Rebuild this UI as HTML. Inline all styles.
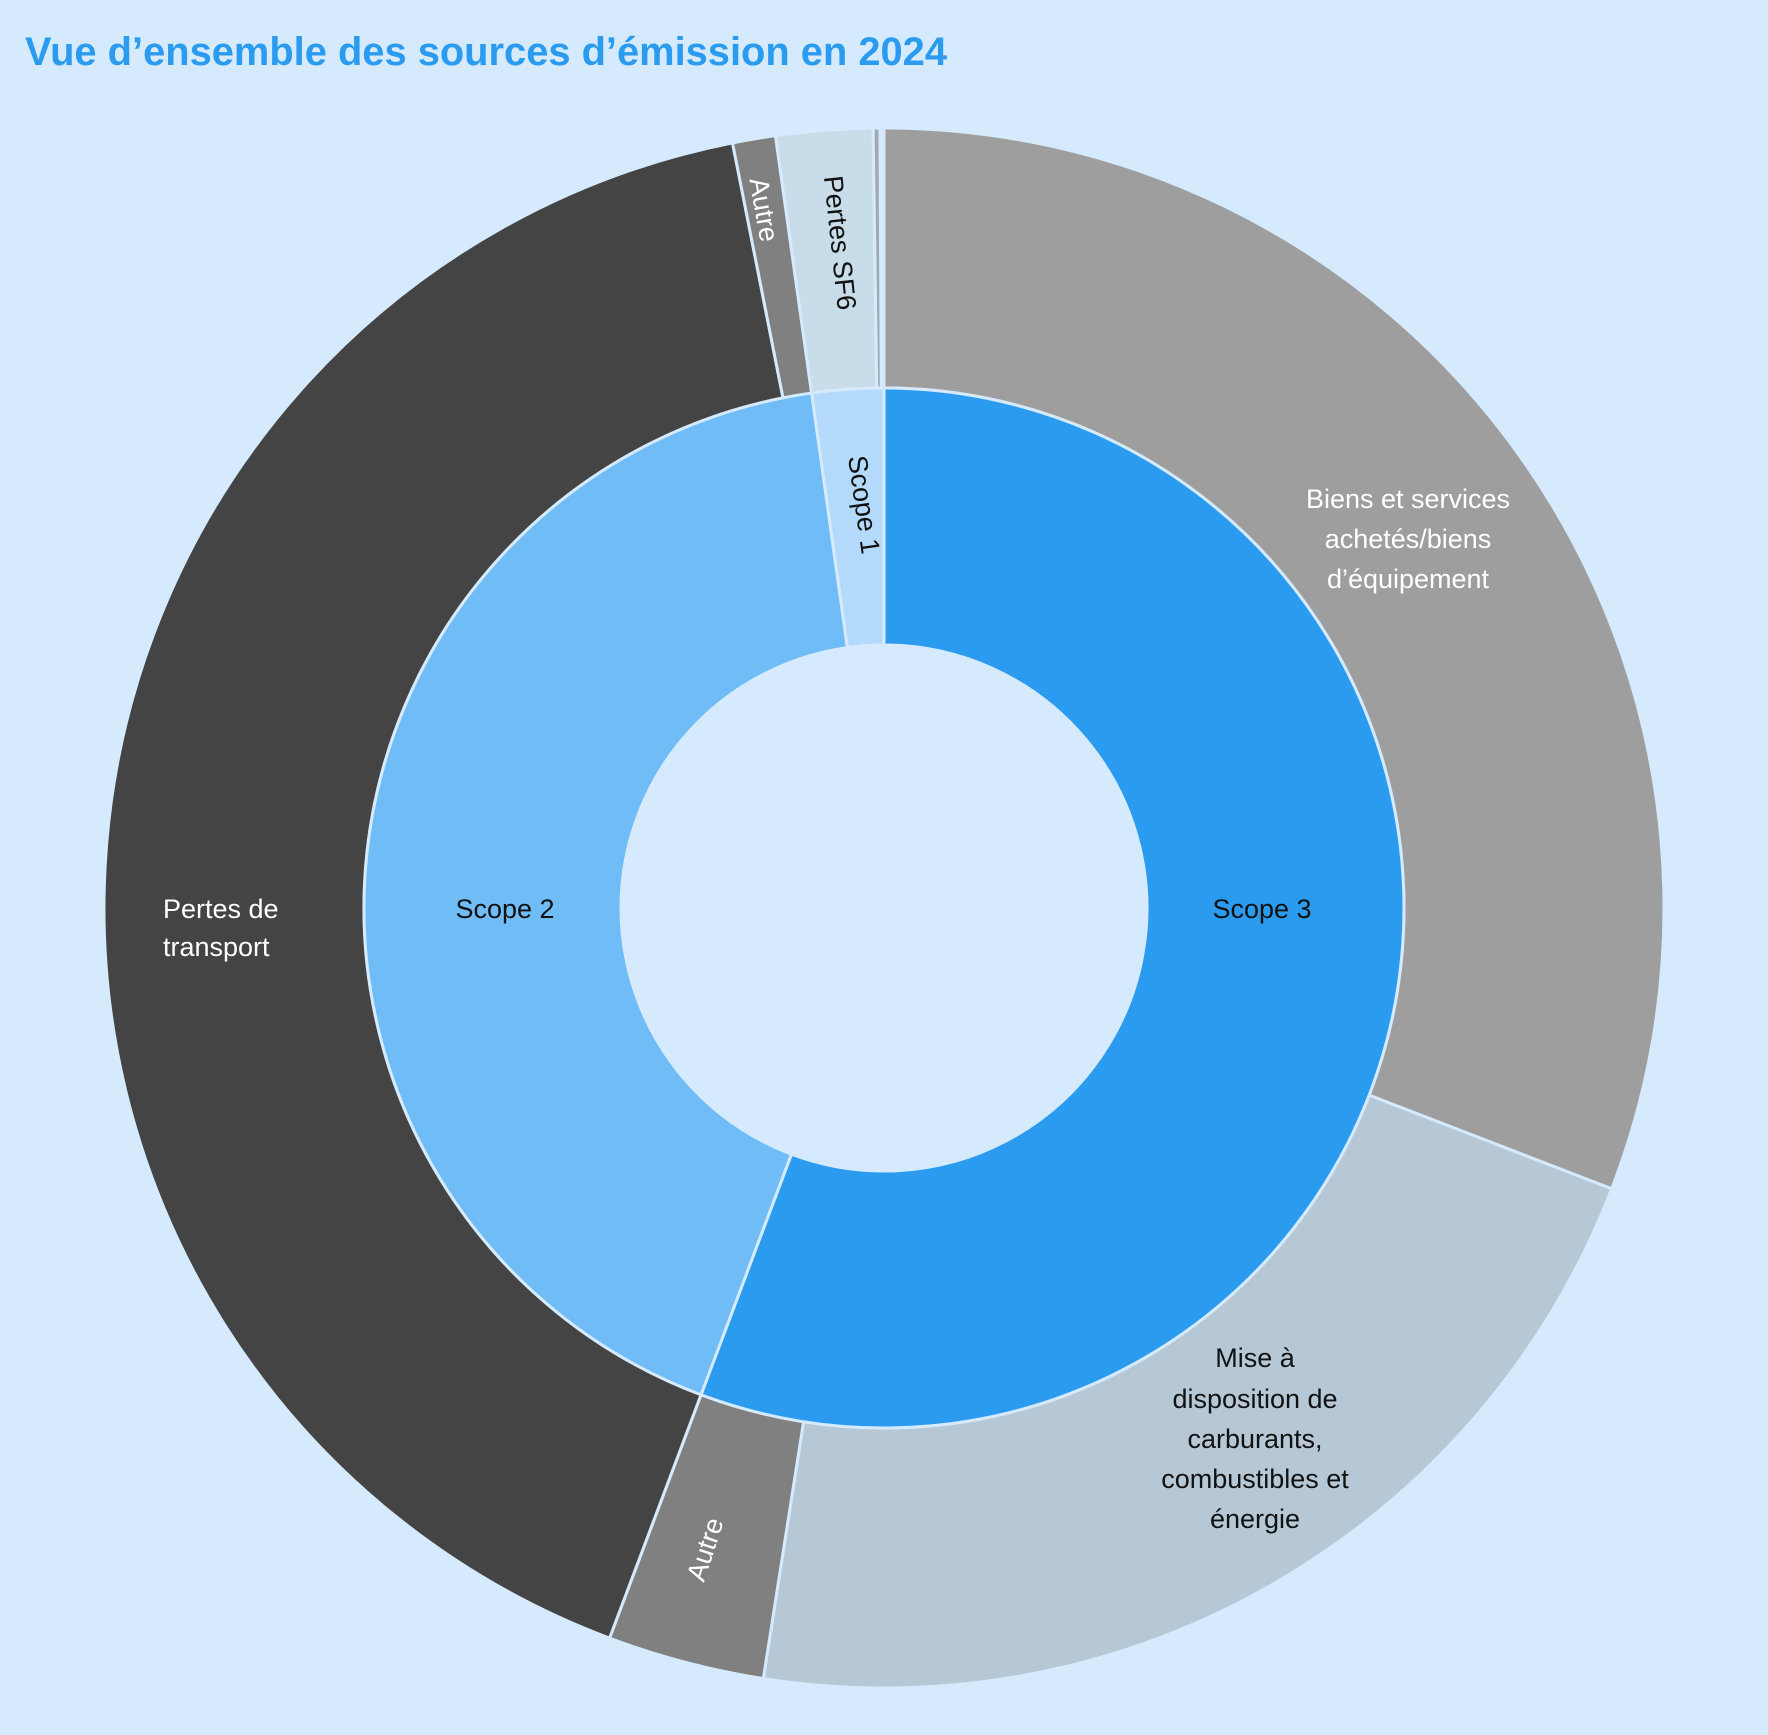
<!DOCTYPE html>
<html><head><meta charset="utf-8"><style>
html,body{margin:0;padding:0;background:#d5eafc}
svg{display:block}
text{font-family:"Liberation Sans",sans-serif}
</style></head><body>
<svg id="s" width="1768" height="1735" viewBox="0 0 1768 1735" xmlns="http://www.w3.org/2000/svg">
<rect width="1768" height="1735" fill="#d5eafc"/>
<g id="arcs"></g>
<text x="25" y="65" font-size="40" font-weight="bold" fill="#2b9bf0" textLength="922" lengthAdjust="spacingAndGlyphs">Vue d’ensemble des sources d’émission en 2024</text>
<g font-size="27" fill="#111">
<text x="862" y="505" text-anchor="middle" dominant-baseline="middle" transform="rotate(82 862 505)">Scope 1</text>
<text x="838" y="243" text-anchor="middle" dominant-baseline="middle" transform="rotate(84 838 243)">Pertes SF6</text>
<text x="505" y="918" text-anchor="middle">Scope 2</text>
<text x="1262" y="918" text-anchor="middle">Scope 3</text>
<g text-anchor="middle">
<text x="1255" y="1367">Mise à</text>
<text x="1255" y="1408">disposition de</text>
<text x="1255" y="1448">carburants,</text>
<text x="1255" y="1488">combustibles et</text>
<text x="1255" y="1528">énergie</text>
</g>
</g>
<g font-size="27" fill="#fff">
<text x="762" y="210" text-anchor="middle" dominant-baseline="middle" transform="rotate(80 762 210)">Autre</text>
<text x="707" y="1550" text-anchor="middle" dominant-baseline="middle" transform="rotate(-72 707 1550)">Autre</text>
<g text-anchor="middle">
<text x="1408" y="508">Biens et services</text>
<text x="1408" y="548">achetés/biens</text>
<text x="1408" y="588">d’équipement</text>
</g>
<text x="163" y="918">Pertes de</text>
<text x="163" y="956">transport</text>
</g>
</svg>
<script>
var cx=884,cy=908;
function pt(r,a){var t=a*Math.PI/180;return [cx+r*Math.sin(t),cy-r*Math.cos(t)];}
function seg(r0,r1,a0,a1,c){var p1=pt(r1,a0),p2=pt(r1,a1),p3=pt(r0,a1),p4=pt(r0,a0),l=(a1-a0)>180?1:0;
return '<path d="M'+p1+' A'+r1+','+r1+' 0 '+l+' 1 '+p2+' L'+p3+' A'+r0+','+r0+' 0 '+l+' 0 '+p4+'Z" fill="'+c+'" stroke="#d5eafc" stroke-width="3"/>';}
var h='';
[[0,111.1,'#9e9e9e'],[111.1,188.9,'#b6c8d6'],[188.9,200.6,'#808080'],[200.6,348.8,'#444444'],[348.8,352,'#808080'],[352,359.2,'#c8dcea'],[359.2,359.7,'#a0a8b0']].forEach(function(s){h+=seg(520,780,s[0],s[1],s[2]);});
[[0,200.6,'#2b9bf0'],[200.6,352,'#6fbcf6'],[352,360,'#b3dafb']].forEach(function(s){h+=seg(263,520,s[0],s[1],s[2]);});
document.getElementById('arcs').innerHTML=h;
</script>
</body></html>
